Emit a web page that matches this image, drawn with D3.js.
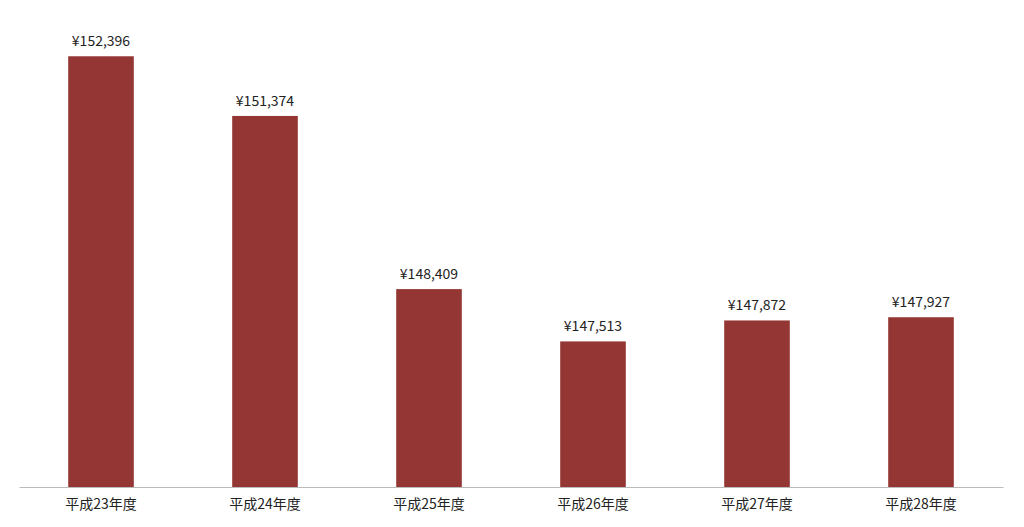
<!DOCTYPE html>
<html><head><meta charset="utf-8">
<script src="https://cdn.jsdelivr.net/npm/d3@7"></script>
<style>body{margin:0;background:#fff}text{font-family:"Noto Sans CJK JP","Noto Sans",sans-serif}</style>
</head><body><svg id="c" width="1024" height="527"></svg>
<script>
const categories=["平成23年度","平成24年度","平成25年度","平成26年度","平成27年度","平成28年度"];
const values=[152396,151374,148409,147513,147872,147927];
const svg=d3.select("#c");
const x=d3.scaleBand().domain(categories).range([19,1003]).paddingInner(0.6).paddingOuter(0.3);
const y=d3.scaleLinear().domain([145020,153000]).range([487,21]);
svg.selectAll("rect").data(values).join("rect")
 .attr("x",(d,i)=>x(categories[i])).attr("width",x.bandwidth())
 .attr("y",d=>y(d)).attr("height",d=>487-y(d)).attr("fill","#943634");
svg.selectAll(".v").data(values).join("text")
 .attr("x",(d,i)=>x(categories[i])+x.bandwidth()/2).attr("y",d=>y(d)-10)
 .attr("text-anchor","middle").attr("font-size",14).attr("fill","#222")
 .text(d=>"¥"+d3.format(",")(d));
const ax=svg.append("g").attr("transform","translate(0,487)").call(d3.axisBottom(x).tickSize(0).tickPadding(12));
ax.select(".domain").attr("stroke","#bbb");
ax.selectAll("text").attr("font-size",14).attr("fill","#222").style("font-family","'Noto Sans CJK JP',sans-serif");
</script></body></html>
